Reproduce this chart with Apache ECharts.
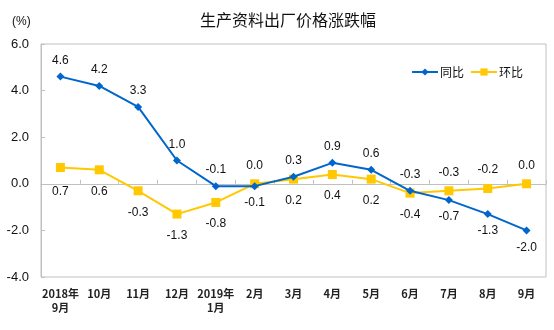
<!DOCTYPE html>
<html>
<head>
<meta charset="utf-8">
<script src="https://cdn.jsdelivr.net/npm/echarts@6/dist/echarts.min.js"></script>
<style>html,body{margin:0;padding:0;background:#fff;}#c{width:554px;height:330px;}</style>
</head>
<body>
<div id="c"></div>
<script>
var categories = ['2018年\n9月','10月','11月','12月','2019年\n1月','2月','3月','4月','5月','6月','7月','8月','9月'];
var yoy = [4.6, 4.2, 3.3, 1.0, -0.1, -0.1, 0.3, 0.9, 0.6, -0.3, -0.7, -1.3, -2.0];
var mom = [0.7, 0.6, -0.3, -1.3, -0.8, 0.0, 0.2, 0.4, 0.2, -0.4, -0.3, -0.2, 0.0];
var yTicks = [-4, -2, 0, 2, 4, 6];

// label placement (style only)
var yoyBelow = [5, 10, 11, 12];
var momAbove = [5, 10, 11, 12];

function labelled(vals, belowSet, defaultBelow, dTop, dBottom) {
  return vals.map(function (v, i) {
    var inSet = belowSet.indexOf(i) >= 0;
    var below = defaultBelow ? !inSet : inSet;
    return {
      value: v,
      label: { position: below ? 'bottom' : 'top', distance: below ? dBottom : dTop }
    };
  });
}

var yoyData = labelled(yoy, yoyBelow, false, 6, 7);
var momData = labelled(mom, momAbove, true, 8, 11);
momData[0].label.distance = 14;

var chart = echarts.init(document.getElementById('c'), null, {renderer: 'canvas'});
var font = 'Liberation Sans, Arial, sans-serif';
chart.setOption({
  animation: false,
  backgroundColor: '#fff',
  title: {
    text: '生产资料出厂价格涨跌幅',
    left: 283, top: 7, textAlign: 'center',
    textStyle: { fontSize: 16, fontWeight: 'normal', color: '#111', fontFamily: 'Noto Sans CJK SC' }
  },
  legend: {
    top: 61, right: 26, itemWidth: 26, itemHeight: 9, itemGap: 6,
    textStyle: { fontSize: 12, color: '#111', fontFamily: 'Noto Sans CJK SC', padding: [0, 0, 0, -3] },
    data: ['同比', '环比']
  },
  graphic: [{
    type: 'text', left: 12, top: 16,
    style: { text: '(%)', fontSize: 12, fill: '#111', fontFamily: font }
  }],
  grid: { left: 41, right: 8, top: 44, bottom: 53, show: true, borderColor: '#c0c0c0', borderWidth: 1 },
  xAxis: [{
    type: 'category', data: categories, position: 'bottom', boundaryGap: true,
    axisLine: { show: false, onZero: false },
    axisTick: { show: false },
    axisLabel: { interval: 0, margin: 10, fontSize: 11, fontWeight: 'bold', color: '#222', lineHeight: 14, fontFamily: 'Noto Sans CJK SC' }
  }, {
    type: 'category', data: categories, position: 'bottom', boundaryGap: true,
    axisLine: { show: true, onZero: true, lineStyle: { color: '#c0c0c0', width: 1 } },
    axisTick: { show: true, inside: true, length: 4, interval: 0, lineStyle: { color: '#c0c0c0' } },
    axisLabel: { show: false }
  }],
  yAxis: {
    type: 'value', min: yTicks[0], max: yTicks[yTicks.length - 1], interval: 2,
    axisLine: { show: true, lineStyle: { color: '#c0c0c0' } },
    axisTick: { show: true, inside: true, length: 4, lineStyle: { color: '#c0c0c0' } },
    splitLine: { show: false },
    axisLabel: { fontSize: 13, color: '#111', margin: 12, fontFamily: font, formatter: function (v) { return v.toFixed(1); } }
  },
  series: [{
    name: '同比', type: 'line', xAxisIndex: 0, data: yoyData,
    symbol: 'diamond', symbolSize: 8, z: 3,
    lineStyle: { color: '#0066CC', width: 2 },
    itemStyle: { color: '#0066CC' },
    label: { show: true, fontSize: 12, color: '#111', fontFamily: font, formatter: function (p) { return p.value.toFixed(1); } }
  }, {
    name: '环比', type: 'line', xAxisIndex: 0, data: momData,
    symbol: 'rect', symbolSize: 9, z: 2,
    lineStyle: { color: '#FFC800', width: 2 },
    itemStyle: { color: '#FFC800' },
    label: { show: true, fontSize: 12, color: '#111', fontFamily: font, formatter: function (p) { return p.value.toFixed(1); } }
  }]
});
</script>
</body>
</html>
